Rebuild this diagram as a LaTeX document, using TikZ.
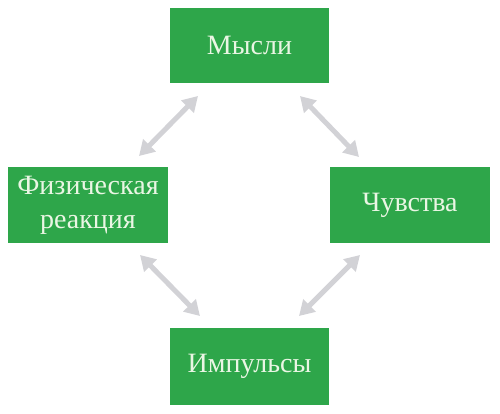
\documentclass[tikz,border=0pt]{standalone}
\usepackage{fontspec}
\setmainfont{Liberation Serif}
\usetikzlibrary{arrows.meta}
\definecolor{boxgreen}{HTML}{2EA64A}
\definecolor{txt}{HTML}{EAF6E4}
\definecolor{arr}{HTML}{D2D2D6}
\tikzset{
  box/.style={fill=boxgreen, draw=none, text=txt, font=\fontsize{28}{34}\selectfont, align=center, inner sep=0pt},
  link/.style={draw=arr, line width=5pt, {Triangle[width=17pt,length=15pt]}-{Triangle[width=17pt,length=15pt]}}
}
\begin{document}
\begin{tikzpicture}[x=1pt,y=-1pt]
\useasboundingbox (0,0) rectangle (500,413);
\node[box, minimum width=159pt, minimum height=75pt] (top) at (249.5,45.5) {Мысли};
\node[box, minimum width=160pt, minimum height=76pt] (left) at (88,205) {Физическая\\реакция};
\node[box, minimum width=160pt, minimum height=76pt] (right) at (410,205) {Чувства};
\node[box, minimum width=159pt, minimum height=77pt] (bot) at (249.5,366.5) {Импульсы};
\coordinate (a1) at (198,96); \coordinate (a2) at (139,156);
\coordinate (b1) at (300,96); \coordinate (b2) at (359,157);
\coordinate (c1) at (140,255); \coordinate (c2) at (200,316);
\coordinate (d1) at (360,255); \coordinate (d2) at (299,316);
\draw[link] (a1) -- (a2);
\draw[link] (b1) -- (b2);
\draw[link] (c1) -- (c2);
\draw[link] (d1) -- (d2);
\end{tikzpicture}
\end{document}
